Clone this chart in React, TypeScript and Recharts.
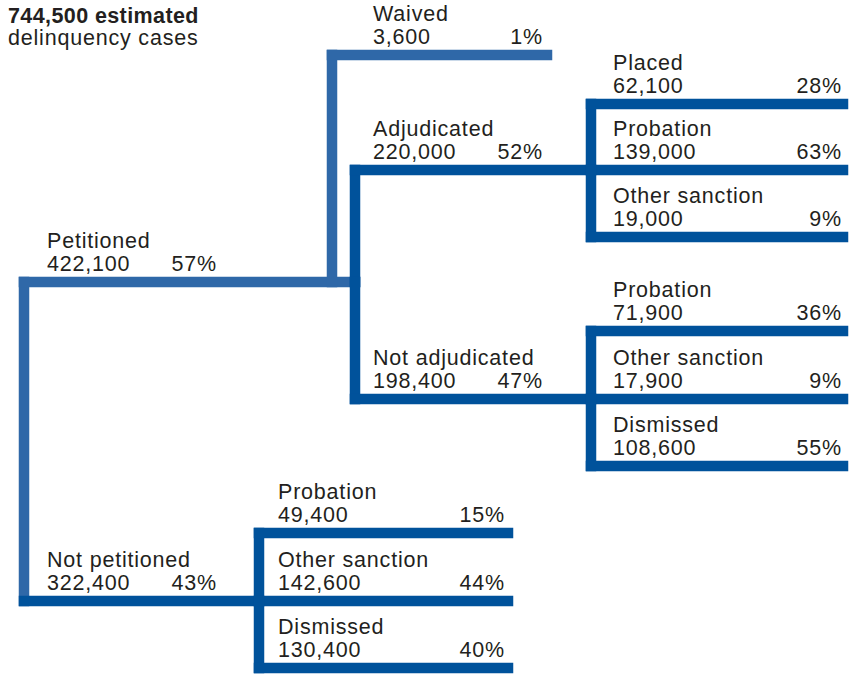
import { ComposedChart, ReferenceLine, Scatter, XAxis, YAxis } from "recharts"

// total at the root of the tree
const totalLines = ["744,500 estimated", "delinquency cases"]

// nodes of the case-processing tree
const names = [
  "Petitioned", "Not petitioned",
  "Waived", "Adjudicated", "Not adjudicated",
  "Placed", "Probation", "Other sanction",
  "Probation", "Other sanction", "Dismissed",
  "Probation", "Other sanction", "Dismissed",
]
const counts = [
  422100, 322400,
  3600, 220000, 198400,
  62100, 139000, 19000,
  71900, 17900, 108600,
  49400, 142600, 130400,
]
const percents = [57, 43, 1, 52, 47, 28, 63, 9, 36, 9, 55, 15, 44, 40]
// -1 = root
const parents = [-1, -1, 0, 0, 0, 3, 3, 3, 4, 4, 4, 1, 1, 1]

// layout (pixels, chart domain is 1:1 with the page)
const W = 858
const H = 675
const rowY = [282, 601, 55, 170, 399, 104, 170, 237, 331, 399, 466, 533, 601, 668]
const stemX = [24, 24, 332, 355, 355, 591, 591, 591, 591, 591, 591, 259, 259, 259]
const labelX = [47, 47, 373, 373, 373, 613, 613, 613, 613, 613, 613, 278, 278, 278]
const pctRight = [217, 217, 543, 543, 543, 842, 842, 842, 842, 842, 842, 505, 505, 505]
const leafEnd = [0, 0, 547, 0, 0, 843, 843, 843, 843, 843, 843, 508, 508, 508]
const lightNodes = [0, 2]

const LIGHT = "#2f68a8"
const DARK = "#00529b"
const INK = "#231f20"
const FONT = "'Liberation Sans', Arial, Helvetica, sans-serif"

type Seg = { x1: number; y1: number; x2: number; y2: number; color: string }

const fmt = (n: number) => n.toLocaleString("en-US")

function buildSegments(): Seg[] {
  const segs: Seg[] = []
  // root spine spans its children
  const rootKids = parents.map((p, i) => (p === -1 ? i : -1)).filter((i) => i >= 0)
  const ys = rootKids.map((i) => rowY[i])
  segs.push({ x1: stemX[rootKids[0]], y1: Math.min(...ys), x2: stemX[rootKids[0]], y2: Math.max(...ys), color: LIGHT })
  names.forEach((_, i) => {
    const color = lightNodes.includes(i) ? LIGHT : DARK
    const kids = parents.map((p, k) => (p === i ? k : -1)).filter((k) => k >= 0)
    const end = kids.length ? Math.max(...kids.map((k) => stemX[k])) : leafEnd[i]
    if (parents[i] >= 0 && rowY[parents[i]] !== rowY[i]) {
      segs.push({ x1: stemX[i], y1: rowY[parents[i]], x2: stemX[i], y2: rowY[i], color })
    }
    segs.push({ x1: stemX[i], y1: rowY[i], x2: end, y2: rowY[i], color })
  })
  // light first, dark on top
  return [...segs.filter((s) => s.color === LIGHT), ...segs.filter((s) => s.color === DARK)]
}

const labelPoints = names.map((name, i) => ({ x: labelX[i], y: rowY[i], name, count: fmt(counts[i]) }))
const pctPoints = percents.map((p, i) => ({ x: pctRight[i], y: rowY[i], pct: `${p}%` }))
const titlePoints = [{ x: 8, y: 0 }]

const textStyle = { fontFamily: FONT, fontSize: 21.5, fill: INK, letterSpacing: 0.8 }

const LabelShape = (props: any) => {
  const { cx, cy, payload } = props
  return (
    <g>
      <text x={cx} y={cy - 34} {...textStyle}>{payload.name}</text>
      <text x={cx} y={cy - 11} {...textStyle}>{payload.count}</text>
    </g>
  )
}

const PctShape = (props: any) => {
  const { cx, cy, payload } = props
  return (
    <text x={cx} y={cy - 11} textAnchor="end" {...textStyle}>{payload.pct}</text>
  )
}

const TitleShape = (props: any) => {
  const { cx, cy } = props
  return (
    <g>
      <text x={cx} y={cy + 23} {...textStyle} fontWeight="bold" letterSpacing={0.4}>{totalLines[0]}</text>
      <text x={cx} y={cy + 45} {...textStyle}>{totalLines[1]}</text>
    </g>
  )
}

export default function App() {
  const segs = buildSegments()
  return (
    <div style={{ position: "absolute", left: 0, top: 0, width: W, height: H, background: "#fff" }}>
      <ComposedChart width={W} height={H} margin={{ top: 0, right: 0, bottom: 0, left: 0 }}>
        <XAxis type="number" dataKey="x" domain={[0, W]} hide allowDataOverflow />
        <YAxis type="number" dataKey="y" domain={[0, H]} reversed hide allowDataOverflow />
        {segs.map((s, i) => (
          <ReferenceLine
            key={i}
            segment={[{ x: s.x1, y: s.y1 }, { x: s.x2, y: s.y2 }]}
            stroke={s.color}
            strokeWidth={10.5}
            strokeLinecap="square"
            ifOverflow="visible"
          />
        ))}
        <Scatter data={labelPoints} shape={LabelShape} isAnimationActive={false} />
        <Scatter data={pctPoints} shape={PctShape} isAnimationActive={false} />
        <Scatter data={titlePoints} shape={TitleShape} isAnimationActive={false} />
      </ComposedChart>
    </div>
  )
}
